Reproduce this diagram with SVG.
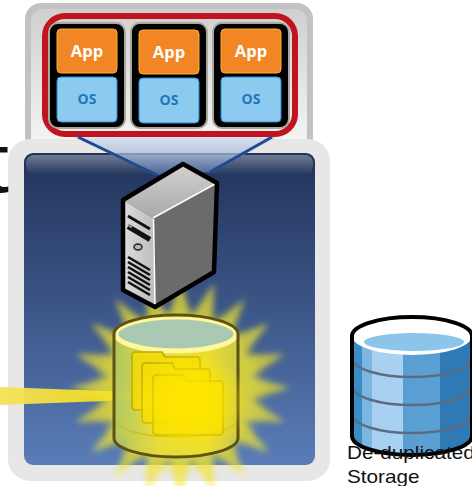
<svg xmlns="http://www.w3.org/2000/svg" width="472" height="486" viewBox="0 0 472 486">
  <style>
    .stack { fill: #000; stroke: #a9a89c; stroke-width: 2; }
    .app { fill: #f28624; stroke: #f7b23a; stroke-width: 1; }
    .os { fill: #8ccaef; stroke: #2d8cd2; stroke-width: 1; }
    .app-t { font-family: "Open Sans", "Liberation Sans", sans-serif; font-weight: 700; font-size: 16.5px; fill: #fff; text-anchor: middle; }
    .os-t { font-family: "Open Sans", "Liberation Sans", sans-serif; font-weight: 700; font-size: 14px; fill: #1e78ba; text-anchor: middle; }
    .doc { fill: #f2dc06; stroke: #c2a90a; stroke-width: 1.5; fill-opacity: 0.85; }
    .slot { stroke: #111; stroke-linecap: butt; }
    .label { font-family: "Liberation Sans", Arial, sans-serif; font-size: 17.7px; fill: #111; }
  </style>
  <defs>
    <linearGradient id="topPanel" x1="0" y1="0" x2="0" y2="1">
      <stop offset="0" stop-color="#cfcfcf"/>
      <stop offset="1" stop-color="#f7f7f7"/>
    </linearGradient>
    <linearGradient id="bluePanel" x1="0" y1="0" x2="0" y2="1">
      <stop offset="0" stop-color="#22335a"/>
      <stop offset="0.5" stop-color="#3c5688"/>
      <stop offset="1" stop-color="#5a7db8"/>
    </linearGradient>
    <linearGradient id="gloss" x1="0" y1="0" x2="0" y2="1">
      <stop offset="0" stop-color="#fff" stop-opacity="0.35"/>
      <stop offset="1" stop-color="#fff" stop-opacity="0"/>
    </linearGradient>
    <linearGradient id="cone" x1="0" y1="0" x2="0" y2="1">
      <stop offset="0" stop-color="#d8e2f0" stop-opacity="0.9"/>
      <stop offset="1" stop-color="#6d8cc0" stop-opacity="0.5"/>
    </linearGradient>
    <linearGradient id="srvTop" x1="0" y1="0" x2="0" y2="1">
      <stop offset="0" stop-color="#d2d2d2"/>
      <stop offset="1" stop-color="#a9a9a9"/>
    </linearGradient>
    <linearGradient id="srvFront" x1="0" y1="0" x2="1" y2="0">
      <stop offset="0" stop-color="#dcdcdc"/>
      <stop offset="1" stop-color="#bdbdbd"/>
    </linearGradient>
    <linearGradient id="ycyl" x1="0" y1="0" x2="1" y2="0">
      <stop offset="0" stop-color="#a9c66a"/>
      <stop offset="0.35" stop-color="#eadf3a"/>
      <stop offset="0.75" stop-color="#f0e22e"/>
      <stop offset="1" stop-color="#cfc94a"/>
    </linearGradient>
    <radialGradient id="hot" cx="0.5" cy="0.5" r="0.5">
      <stop offset="0" stop-color="#ffe600" stop-opacity="1"/>
      <stop offset="0.45" stop-color="#ffe600" stop-opacity="0.8"/>
      <stop offset="1" stop-color="#ffe600" stop-opacity="0"/>
    </radialGradient>
    <linearGradient id="beam" x1="0" y1="0" x2="1" y2="0">
      <stop offset="0" stop-color="#f6e25a"/>
      <stop offset="1" stop-color="#f2dc10"/>
    </linearGradient>
    <filter id="soft" x="-20%" y="-20%" width="140%" height="140%">
      <feGaussianBlur stdDeviation="3"/>
    </filter>
    <filter id="softer" x="-30%" y="-30%" width="160%" height="160%">
      <feGaussianBlur stdDeviation="6"/>
    </filter>
    <clipPath id="bcylClip">
      <path d="M352,336 V436 A60,19 0 0 0 472,436 V336 Z"/>
    </clipPath>
  </defs>

  <!-- host panel holding the virtual machines -->
  <g id="vm-panel">
    <rect x="25" y="3" width="288" height="150" rx="16" fill="#c2c2c2"/>
    <rect x="31" y="9" width="276" height="144" rx="12" fill="url(#topPanel)"/>
    <rect x="45" y="16" width="250" height="118" rx="20" fill="none" stroke="#c1141f" stroke-width="6"/>
  </g>

  <g id="vm1">
    <rect class="stack" x="49" y="23" width="76" height="105" rx="9"/>
    <rect class="app" x="57" y="29" width="60" height="44" rx="4"/>
    <rect class="os" x="57" y="77" width="60" height="45" rx="4"/>
    <text class="app-t" x="87" y="57">App</text>
    <text class="os-t" x="87" y="104">OS</text>
  </g>
  <g id="vm2">
    <rect class="stack" x="131" y="23" width="76" height="105" rx="9"/>
    <rect class="app" x="139" y="30" width="60" height="44" rx="4"/>
    <rect class="os" x="139" y="78" width="60" height="45" rx="4"/>
    <text class="app-t" x="169" y="58">App</text>
    <text class="os-t" x="169" y="105">OS</text>
  </g>
  <g id="vm3">
    <rect class="stack" x="213" y="23" width="76" height="105" rx="9"/>
    <rect class="app" x="221" y="29" width="60" height="44" rx="4"/>
    <rect class="os" x="221" y="77" width="60" height="45" rx="4"/>
    <text class="app-t" x="251" y="57">App</text>
    <text class="os-t" x="251" y="104">OS</text>
  </g>

  <!-- physical host panel -->
  <g id="host-panel">
    <rect x="8" y="139" width="322" height="342" rx="22" fill="#e7e7e7"/>
    <rect x="24" y="153" width="291" height="312" rx="9" fill="url(#bluePanel)"/>
    <rect x="26" y="155" width="287" height="20" rx="8" fill="url(#gloss)"/>
  </g>

  <g id="connectors">
    <!-- projection from the VMs down onto the server -->
    <polygon points="72,137 278,137 210,172 157,175" fill="url(#cone)"/>
    <line x1="78" y1="137" x2="157" y2="175" stroke="#1f4a90" stroke-width="3"/>
    <line x1="272" y1="137" x2="210" y2="172" stroke="#1f4a90" stroke-width="3"/>
    <!-- yellow beam into the storage -->
    <polygon points="0,387 132,392 132,400 0,405" fill="url(#beam)" opacity="0.95"/>
  </g>

  <!-- glowing shared storage -->
  <g id="storage">
    <polygon filter="url(#soft)" fill="#f2e42c" fill-opacity="0.7"
      points="290,388 251.1,399.2 284.6,422 244.2,420.7 269,452.7 230.9,438.9 244.7,477 212.7,452.2 214,492.6 191.2,459.1 180,498 168.8,459.1 146,492.6 147.3,452.2 115.3,477 129.1,438.9 91,452.7 115.8,420.7 75.4,422 108.9,399.2 70,388 108.9,376.8 75.4,354 115.8,355.3 91,323.3 129.1,337.1 115.3,299 147.3,323.8 146,283.4 168.8,316.9 180,278 191.2,316.9 214,283.4 212.7,323.8 244.7,299 230.9,337.1 269,323.3 244.2,355.3 284.6,354 251.1,376.8"/>
    <ellipse cx="180" cy="390" rx="80" ry="78" fill="#f2e42c" fill-opacity="0.35" filter="url(#softer)"/>
    <path d="M114,334 V438 A62,19 0 0 0 238,438 V334 Z" fill="url(#ycyl)" fill-opacity="0.8"/>
    <path d="M114,418 A62,19 0 0 0 238,418" fill="none" stroke="#c8b820" stroke-width="1.5" opacity="0.7"/>
    <ellipse cx="176" cy="334" rx="60" ry="17" fill="#a9c9b2" stroke="#fff79a" stroke-width="5"/>
    <path d="M114,334 A62,19 0 0 1 238,334 V438 A62,19 0 0 1 114,438 Z" fill="none" stroke="#5c5212" stroke-width="3"/>
    <path class="doc" d="M132,356 V406 Q132,410 136,410 H196 Q200,410 200,406 V360 Q200,357 197,357 H165 L162,352 H135 Q132,352 132,356 Z"/>
    <path class="doc" d="M142,367 V419 Q142,423 146,423 H206 Q210,423 210,419 V372 Q210,369 207,369 H175 L172,363 H145 Q142,363 142,367 Z"/>
    <path class="doc" d="M153,379 V431 Q153,435 157,435 H219 Q223,435 223,431 V384 Q223,381 220,381 H186 L183,375 H156 Q153,375 153,379 Z"/>
    <ellipse cx="190" cy="402" rx="58" ry="52" fill="url(#hot)"/>
  </g>

  <!-- server -->
  <g id="server">
    <polygon points="123,200 183,164 217,183 153,218" fill="url(#srvTop)"/>
    <polygon points="123,200 153,218 155,307 123,290" fill="url(#srvFront)"/>
    <polygon points="153,218 217,183 214,272 155,307" fill="#6b6b6b"/>
    <line x1="153" y1="218" x2="215" y2="184" stroke="#fff" stroke-width="1.5"/>
    <line x1="153.5" y1="219" x2="155" y2="305" stroke="#fff" stroke-width="1.5"/>
    <line class="slot" x1="128" y1="216" x2="150" y2="229" stroke-width="3"/>
    <line class="slot" x1="128" y1="226.5" x2="150" y2="239.5" stroke-width="5"/>
    <line x1="128" y1="225" x2="132" y2="227.4" stroke="#999" stroke-width="2"/>
    <ellipse cx="138" cy="247" rx="4" ry="3" fill="#b5b5b5" stroke="#222" stroke-width="1.5"/>
    <line class="slot" x1="128" y1="257" x2="150" y2="270" stroke-width="2.6"/>
    <line class="slot" x1="128" y1="262" x2="150" y2="275" stroke-width="2.6"/>
    <line class="slot" x1="128" y1="267" x2="150" y2="280" stroke-width="2.6"/>
    <line class="slot" x1="128" y1="272" x2="150" y2="285" stroke-width="2.6"/>
    <line class="slot" x1="128" y1="277" x2="150" y2="290" stroke-width="2.6"/>
    <line class="slot" x1="128" y1="282" x2="150" y2="295" stroke-width="2.6"/>
    <path d="M123,200 L183,164 L217,183 L214,272 L155,307 L123,290 Z" fill="none" stroke="#000" stroke-width="4.5" stroke-linejoin="round"/>
  </g>

  <!-- de-duplicated storage -->
  <g id="dedup-storage">
    <g clip-path="url(#bcylClip)">
      <rect x="352" y="320" width="10" height="140" fill="#3a8cc6"/>
      <rect x="362" y="320" width="10" height="140" fill="#7ab6e0"/>
      <rect x="372" y="320" width="31" height="140" fill="#a8d0f0"/>
      <rect x="403" y="320" width="37" height="140" fill="#5a9fd4"/>
      <rect x="440" y="320" width="32" height="140" fill="#2f7ab4"/>
      <path d="M352,358 A60,19 0 0 0 472,358 M352,386 A60,19 0 0 0 472,386 M352,414 A60,19 0 0 0 472,414" fill="none" stroke="#5d6b80" stroke-width="2.5"/>
    </g>
    <ellipse cx="412" cy="336" rx="60" ry="19" fill="#fff"/>
    <ellipse cx="414" cy="342" rx="50" ry="9" fill="#8cc4ea"/>
    <path d="M352,336 A60,19 0 0 1 472,336 V436 A60,19 0 0 1 352,436 Z" fill="none" stroke="#000" stroke-width="4"/>
    <text class="label" transform="translate(347,459) scale(1.17,1)">De-duplicated</text>
    <text class="label" transform="translate(347,483) scale(1.17,1)">Storage</text>
  </g>

  <!-- large title letter running off the left edge -->
  <text x="-15" y="192" font-family="Liberation Sans, Arial, sans-serif" font-size="86" fill="#111">t</text>
</svg>
